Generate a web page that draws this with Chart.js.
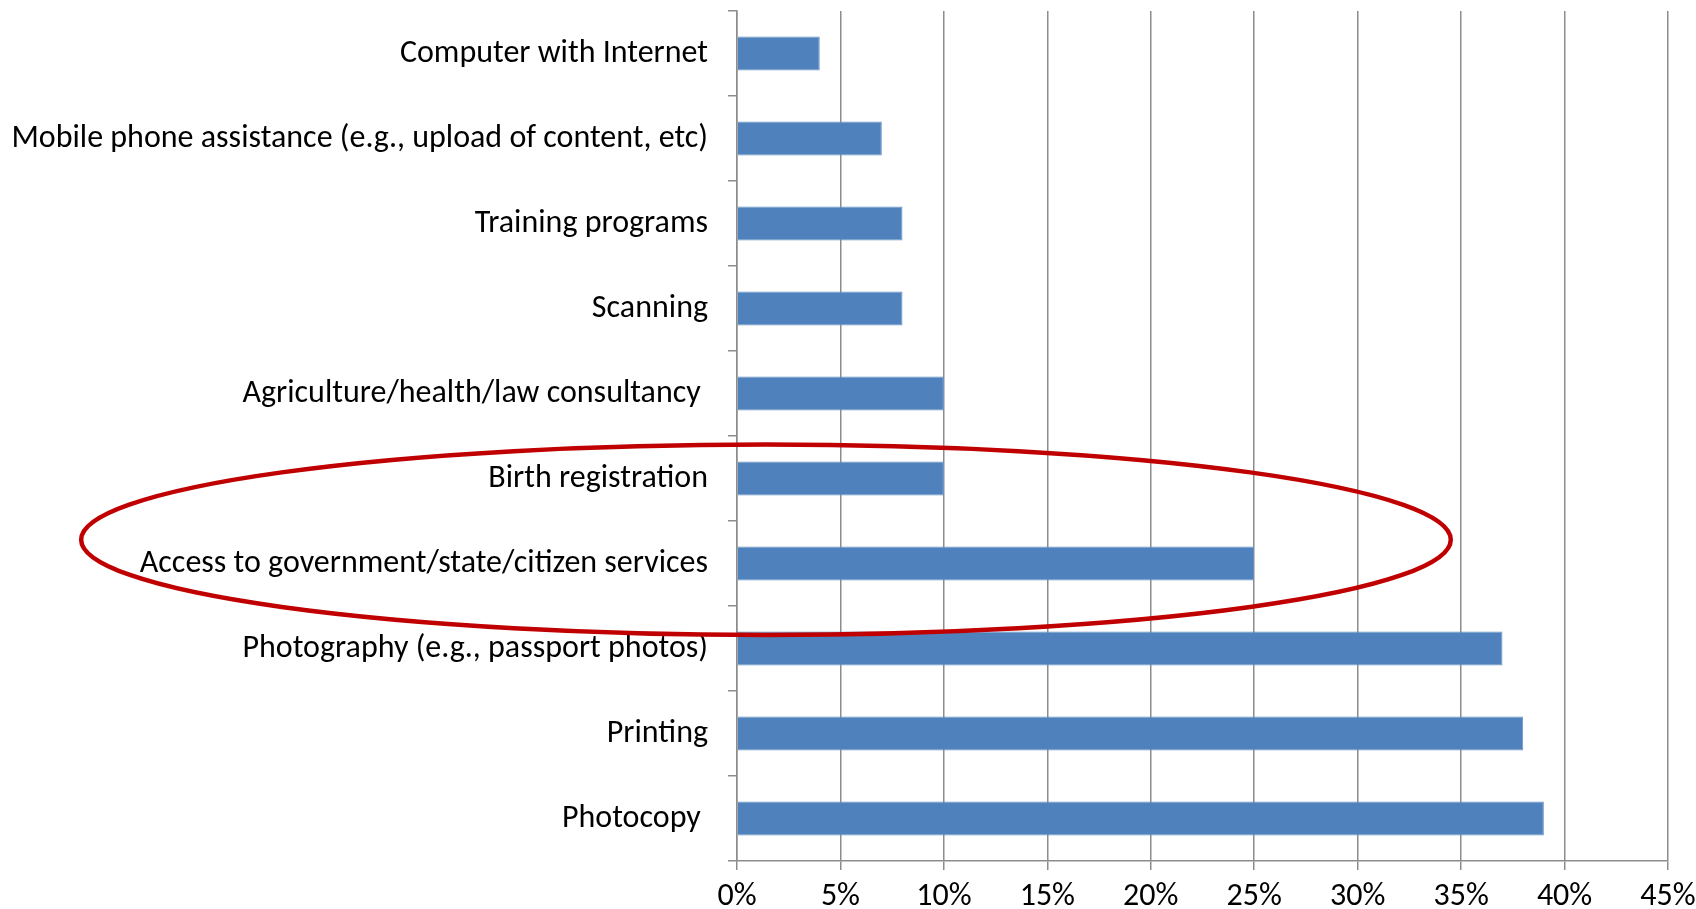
<!DOCTYPE html>
<html>
<head>
<meta charset="utf-8">
<script src="https://cdn.jsdelivr.net/npm/chart.js@4.4.1/dist/chart.umd.min.js"></script>
<style>
  body { margin: 0; background: #fff; }
  #wrap { width: 1696px; height: 909px; }
</style>
</head>
<body>
<div id="wrap"><canvas id="servicesChart" width="1696" height="909"></canvas></div>
<script>
// categories, top to bottom as in the picture
const categories = [
    'Computer with Internet',
    'Mobile phone assistance (e.g., upload of content, etc)',
    'Training programs',
    'Scanning',
    'Agriculture/health/law consultancy ',
    'Birth registration',
    'Access to government/state/citizen services',
    'Photography (e.g., passport photos)',
    'Printing',
    'Photocopy '
];
const shares = [4, 7, 8, 8, 10, 10, 25, 37, 38, 39]; // percent
const xTicks = [0, 5, 10, 15, 20, 25, 30, 35, 40, 45];

// red ring drawn around the two government rows (in axis units)
const ringX = [-31.7, 34.5];      // percent axis, left / right end
const ringYCenter = 5.72;         // category index
const ringYRadius = 1.12;         // in categories

const fontFamily = "Carlito, Calibri, Lato, 'Liberation Sans', sans-serif";
const gridGray = '#8c8c8c';

const ringPlugin = {
    id: 'ring',
    afterDatasetsDraw(chart) {
        const ctx = chart.ctx;
        const xs = chart.scales.x;
        const ys = chart.scales.y;
        const x0 = xs.getPixelForValue(ringX[0]);
        const x1 = xs.getPixelForValue(ringX[1]);
        const step = ys.getPixelForValue(1) - ys.getPixelForValue(0);
        const cy = ys.getPixelForValue(0) + step * ringYCenter;
        ctx.save();
        ctx.beginPath();
        ctx.ellipse((x0 + x1) / 2, cy, (x1 - x0) / 2, step * ringYRadius, 0, 0, Math.PI * 2);
        ctx.strokeStyle = '#c00000';
        ctx.lineWidth = 4.5;
        ctx.stroke();
        ctx.restore();
    }
};

const ctx = document.getElementById('servicesChart').getContext('2d');
const servicesChart = new Chart(ctx, {
    type: 'bar',
    data: {
        labels: categories,
        datasets: [{
            data: shares,
            backgroundColor: '#4f81bd',
            borderColor: '#6b95c6',
            borderWidth: 1,
            barPercentage: 0.4,
            categoryPercentage: 1.0
        }]
    },
    options: {
        indexAxis: 'y',
        responsive: false,
        animation: false,
        layout: { padding: { top: 11, right: 28, left: 0, bottom: 0 } },
        plugins: {
            legend: { display: false },
            tooltip: { enabled: false }
        },
        scales: {
            x: {
                min: 0,
                max: 45,
                afterBuildTicks(scale) {
                    scale.ticks = xTicks.map(v => ({ value: v }));
                },
                afterFit(scale) {
                    scale.height = 48;
                    scale.paddingLeft = 0;
                    scale.paddingRight = 0;
                },
                grid: {
                    color: gridGray,
                    lineWidth: 1.5,
                    tickLength: 9
                },
                border: { color: gridGray, width: 1.5 },
                ticks: {
                    color: '#000',
                    padding: 8,
                    font: { family: fontFamily, size: 32 },
                    callback: v => v + '%'
                }
            },
            y: {
                afterFit(scale) {
                    scale.width = 737;
                    scale.paddingTop = 0;
                    scale.paddingBottom = 0;
                },
                grid: {
                    drawOnChartArea: false,
                    color: gridGray,
                    lineWidth: 1.5,
                    tickLength: 9
                },
                border: { color: gridGray, width: 1.5 },
                ticks: {
                    color: '#000',
                    padding: 20,
                    font: { family: fontFamily, size: 32 }
                }
            }
        }
    },
    plugins: [ringPlugin]
});
</script>
</body>
</html>
